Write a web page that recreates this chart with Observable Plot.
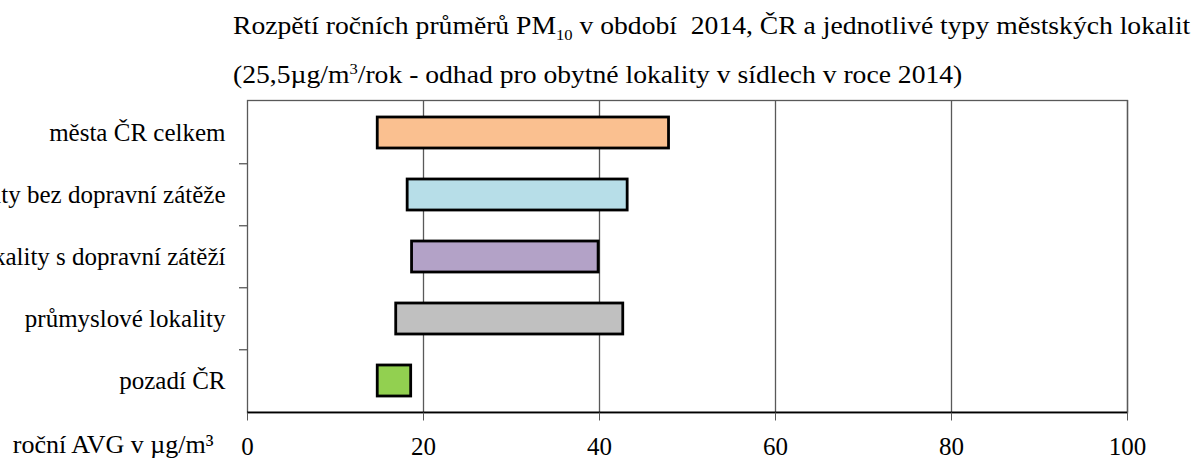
<!DOCTYPE html>
<html><head><meta charset="utf-8">
<script src="https://cdn.jsdelivr.net/npm/d3@7"></script>
<script src="https://cdn.jsdelivr.net/npm/@observablehq/plot@0.6"></script>
<style>
body{margin:0;background:#fff;overflow:hidden;font-family:'Liberation Serif',serif}
#head{position:relative;height:90px;width:1195px}
.t{position:absolute;left:233px;font-size:25px;line-height:1;white-space:nowrap;color:#000;font-family:'Liberation Serif',serif;transform:scaleX(1.105);transform-origin:0 0}
sub,sup{font-size:0.6em;line-height:0}
#chart svg text{font-family:'Liberation Serif',serif}
</style></head>
<body>
<div id="head">
<div class="t" style="top:13px">Rozpětí ročních průměrů PM<sub>10</sub> v období&nbsp; 2014, ČR a jednotlivé typy městských lokalit</div>
<div class="t" style="top:62px">(25,5µg/m<sup>3</sup>/rok - odhad pro obytné lokality v sídlech v roce 2014)</div>
</div>
<div id="chart"></div>
<script>
const categories = ["města ČR celkem", "lokality bez dopravní zátěže", "lokality s dopravní zátěží", "průmyslové lokality", "pozadí ČR"];
const minValues = [14.8, 18.2, 18.7, 16.9, 14.8];
const maxValues = [47.9, 43.2, 39.9, 42.7, 18.6];
const barColors = ["#FAC090", "#B7DEE8", "#B3A2C7", "#C0C0C0", "#92D050"];
const xTicks = [0, 20, 40, 60, 80, 100];
const axisLabel = "roční AVG v µg/m³";

const data = categories.map((c, i) => ({cat: c, min: minValues[i], max: maxValues[i], color: barColors[i]}));

const H = 371, MT = 10, MB = 48.5;
const step = (H - MT - MB) / categories.length;
const grid = "#595959";

const chart = Plot.plot({
  width: 1195, height: H,
  marginLeft: 247, marginRight: 68, marginTop: MT, marginBottom: MB,
  style: {fontFamily: "'Liberation Serif', serif", fontSize: "25px", color: "#000", background: "#fff", overflow: "visible"},
  x: {domain: [0, 100]},
  y: {domain: categories, paddingInner: 0.5, paddingOuter: 0.25},
  color: {type: "identity"},
  marks: [
    Plot.ruleX(xTicks.filter(d => d > 0), {stroke: grid, strokeWidth: 1.3}),
    Plot.frame({stroke: grid, strokeWidth: 1.3}),
    Plot.ruleY(categories.slice(1), {dy: -step / 2, x1: 0, x2: 0, insetLeft: -8, stroke: grid, strokeWidth: 1.3}),
    Plot.ruleY(categories.slice(-1), {dy: step / 2, stroke: "#000", strokeWidth: 1.6}),
    Plot.barX(data, {y: "cat", x1: "min", x2: "max", fill: "color", stroke: "#000", strokeWidth: 2.8}),
    Plot.axisX(xTicks, {tickSize: 8, tickPadding: 16, fontSize: 25, stroke: grid, fill: "#000", label: null}),
    Plot.axisY({tickSize: 0, tickPadding: 22, fontSize: 25, fill: "#000", label: null}),
    Plot.text([axisLabel], {frameAnchor: "bottom-left", text: d => d, textAnchor: "end", dx: -34, dy: 40, fontSize: 26, fill: "#000"})
  ]
});
document.getElementById("chart").appendChild(chart);
</script>
</body></html>
